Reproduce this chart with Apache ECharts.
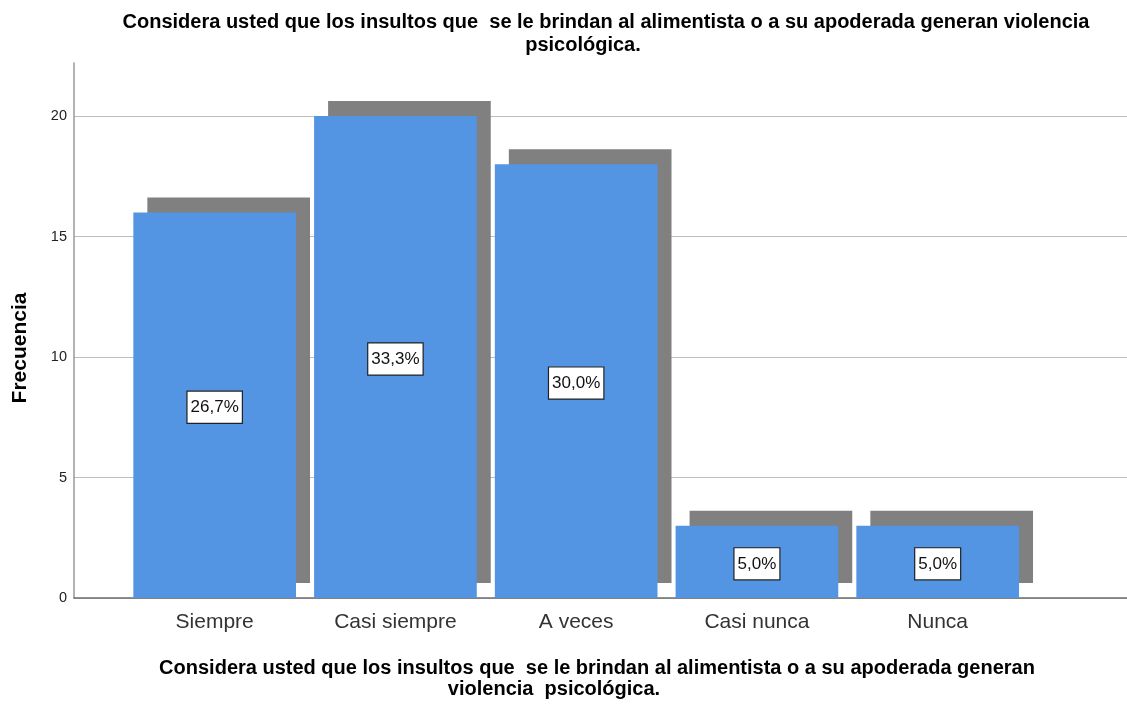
<!DOCTYPE html>
<html>
<head>
<meta charset="utf-8">
<script src="https://cdn.jsdelivr.net/npm/echarts@6/dist/echarts.min.js"></script>
<style>
html,body{margin:0;padding:0;background:#fff;}
#chart{width:1127px;height:704px;}
</style>
</head>
<body>
<div id="chart"></div>
<script>
const categories = ['Siempre', 'Casi siempre', 'A veces', 'Casi nunca', 'Nunca'];
const frequencies = [16, 20, 18, 3, 3];
const percentLabels = ['26,7%', '33,3%', '30,0%', '5,0%', '5,0%'];
const yTicks = [0, 5, 10, 15, 20];
const titleLines = ['Considera usted que los insultos que  se le brindan al alimentista o a su apoderada generan violencia', 'psicológica.'];
const xTitleLines = ['Considera usted que los insultos que  se le brindan al alimentista o a su apoderada generan', 'violencia  psicológica.'];
const yTitle = 'Frecuencia';

const FONT = '"Liberation Sans", Arial, sans-serif';
const Y_MAX = 22.2;
const chart = echarts.init(document.getElementById('chart'), null, {renderer: 'canvas'});

const t1 = {fontFamily: FONT, fontWeight: 'bold', fontSize: 20, color: '#000'};

chart.setOption({
  animation: false,
  backgroundColor: '#fff',
  title: [
    {text: titleLines[0], left: 601, top: 7, textAlign: 'center', textStyle: t1},
    {text: titleLines[1], left: 578, top: 30, textAlign: 'center', textStyle: t1},
    {text: xTitleLines[0], left: 592, top: 653, textAlign: 'center', textStyle: t1},
    {text: xTitleLines[1], left: 549, top: 674, textAlign: 'center', textStyle: t1}
  ],
  graphic: [{
    type: 'text', x: 20, y: 348, rotation: Math.PI / 2,
    style: {text: yTitle, align: 'center', verticalAlign: 'middle',
      font: 'bold 21px "Liberation Sans", Arial, sans-serif', fill: '#000'}
  }],
  grid: [
    {left: 74, right: 0, top: 63, bottom: 106},
    {left: 124.3, width: 903.75, top: 63, bottom: 106}
  ],
  xAxis: [
    {
      gridIndex: 0, type: 'value', min: 0, max: 1,
      axisLine: {show: true, onZero: false, lineStyle: {color: '#6e6e6e', width: 1.5}},
      axisTick: {show: false}, axisLabel: {show: false}, splitLine: {show: false}
    },
    {
      gridIndex: 1, type: 'category', data: categories,
      axisLine: {show: false}, axisTick: {show: false},
      axisLabel: {fontFamily: FONT, fontSize: 21, color: '#333', margin: 14}
    }
  ],
  yAxis: [
    {
      gridIndex: 0, type: 'value', min: 0, max: Y_MAX, interval: 5,
      axisLine: {show: true, lineStyle: {color: '#999', width: 1.5}},
      axisTick: {show: false},
      axisLabel: {
        fontFamily: FONT, fontSize: 14.5, color: '#222', margin: 7,
        formatter: v => (yTicks.indexOf(v) >= 0 ? String(v) : '')
      },
      splitLine: {show: true, lineStyle: {color: ['#bdbdbd', '#bdbdbd', '#bdbdbd', '#bdbdbd', '#bdbdbd', 'rgba(0,0,0,0)'], width: 1.2}}
    },
    {
      gridIndex: 1, type: 'value', min: 0, max: Y_MAX, show: false
    }
  ],
  series: [{
    type: 'custom',
    xAxisIndex: 1, yAxisIndex: 1,
    data: frequencies.map((v, i) => [i, v]),
    renderItem: function (params, api) {
      const i = api.value(0);
      const top = api.coord([i, api.value(1)]);
      const base = api.coord([i, 0]);
      const w = api.size([1, 0])[0] * 0.9;
      const h = base[1] - top[1];
      const dx = 14, dy = 15;
      return {
        type: 'group',
        children: [
          {type: 'rect', shape: {x: top[0] - w / 2 + dx, y: top[1] - dy, width: w, height: h}, style: {fill: '#808080'}},
          {type: 'rect', shape: {x: top[0] - w / 2, y: top[1], width: w, height: h}, style: {fill: '#5394e3'}},
          {type: 'text', x: top[0], y: (top[1] + base[1]) / 2 + 2,
            style: {
              text: percentLabels[params.dataIndex], align: 'center', verticalAlign: 'middle',
              fontFamily: FONT, fontSize: 17, lineHeight: 17, fill: '#111',
              backgroundColor: '#fff', borderColor: '#222', borderWidth: 1.2,
              padding: [8, 3, 6, 3]
            }}
        ]
      };
    }
  }]
});
</script>
</body>
</html>
